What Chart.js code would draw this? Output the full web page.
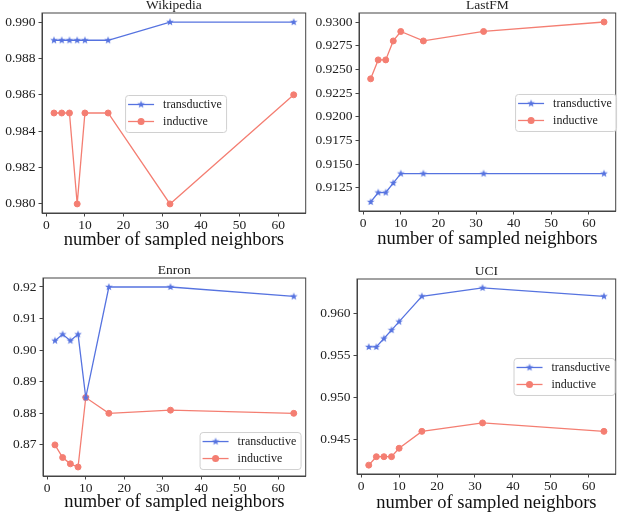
<!DOCTYPE html>
<html>
<head>
<meta charset="utf-8">
<script src="https://cdn.jsdelivr.net/npm/chart.js@4.4.1/dist/chart.umd.min.js"></script>
<style>
  body { margin: 0; background: #fff; width: 621px; height: 518px; position: relative; overflow: hidden; }
  .panel { position: absolute; }
</style>
</head>
<body>
<div class="panel" style="left:0px;top:0px"><canvas id="c0" width="311" height="250"></canvas></div>
<div class="panel" style="left:310px;top:0px"><canvas id="c1" width="311" height="250"></canvas></div>
<div class="panel" style="left:0px;top:255px"><canvas id="c2" width="311" height="263"></canvas></div>
<div class="panel" style="left:310px;top:255px"><canvas id="c3" width="311" height="263"></canvas></div>
<script>
// donnees
const neighbors = [2, 4, 6, 8, 10, 16, 32, 64];
const xTicks = [0, 10, 20, 30, 40, 50, 60];

const wikiTrans = [0.989, 0.989, 0.989, 0.989, 0.989, 0.989, 0.990, 0.990];
const wikiInd = [0.985, 0.985, 0.985, 0.980, 0.985, 0.985, 0.980, 0.986];
const wikiYTicks = [0.980, 0.982, 0.984, 0.986, 0.988, 0.990];

const lastfmTrans = [0.9110, 0.9120, 0.9120, 0.9130, 0.9140, 0.9140, 0.9140, 0.9140];
const lastfmInd = [0.9240, 0.9260, 0.9260, 0.9280, 0.9290, 0.9280, 0.9290, 0.9300];
const lastfmYTicks = [0.9125, 0.9150, 0.9175, 0.9200, 0.9225, 0.9250, 0.9275, 0.9300];

const enronTrans = [0.903, 0.905, 0.903, 0.905, 0.885, 0.920, 0.920, 0.917];
const enronInd = [0.870, 0.866, 0.864, 0.863, 0.885, 0.880, 0.881, 0.880];
const enronYTicks = [0.87, 0.88, 0.89, 0.90, 0.91, 0.92];

const uciTrans = [0.956, 0.956, 0.957, 0.958, 0.959, 0.962, 0.963, 0.962];
const uciInd = [0.942, 0.943, 0.943, 0.943, 0.944, 0.946, 0.947, 0.946];
const uciYTicks = [0.945, 0.950, 0.955, 0.960];

const BLUE = '#5673e0';
const RED = '#f47e72';
const AXIS = '#444';
const SERIF = '"Liberation Serif", "Times New Roman", serif';

// etoile pleine comme le marqueur '*' de matplotlib
function makeStar(color, r) {
    const size = Math.ceil(r * 2 + 2);
    const c = document.createElement('canvas');
    c.width = size; c.height = size;
    const g = c.getContext('2d');
    g.fillStyle = color;
    g.beginPath();
    for (let i = 0; i < 10; i++) {
        const rad = i % 2 === 0 ? r : r * 0.42;
        const a = -Math.PI / 2 + i * Math.PI / 5;
        const px = size / 2 + rad * Math.cos(a);
        const py = size / 2 + rad * Math.sin(a);
        if (i === 0) g.moveTo(px, py); else g.lineTo(px, py);
    }
    g.closePath();
    g.fill();
    return c;
}
const starImg = makeStar(BLUE, 4);

// cadre, titre et legende dans le graphique
const panelDecor = {
    id: 'panelDecor',
    afterDraw(chart, args, opts) {
        const { ctx, chartArea: a } = chart;
        ctx.save();
        ctx.strokeStyle = AXIS;
        ctx.lineWidth = 1;
        ctx.strokeRect(a.left, a.top, a.right - a.left, a.bottom - a.top);

        ctx.fillStyle = '#222';
        ctx.font = '13.5px ' + SERIF;
        ctx.textAlign = 'center';
        ctx.textBaseline = 'alphabetic';
        ctx.fillText(opts.title, (a.left + a.right) / 2, a.top - 4);

        const bx = a.left + opts.fx * (a.right - a.left);
        const by = a.top + opts.fy * (a.bottom - a.top);
        const bw = 101, bh = 37;
        ctx.beginPath();
        ctx.roundRect(bx + 0.5, by + 0.5, bw, bh, 3);
        ctx.fillStyle = 'rgba(255,255,255,0.85)';
        ctx.fill();
        ctx.strokeStyle = '#d0d0d0';
        ctx.stroke();

        ctx.font = '12px ' + SERIF;
        ctx.textAlign = 'left';
        ctx.textBaseline = 'middle';
        chart.data.datasets.forEach((ds, i) => {
            const ry = by + 9.5 + i * 17;
            ctx.strokeStyle = ds.borderColor;
            ctx.lineWidth = 1.3;
            ctx.beginPath();
            ctx.moveTo(bx + 3, ry);
            ctx.lineTo(bx + 29, ry);
            ctx.stroke();
            if (ds.pointStyle === 'circle') {
                ctx.fillStyle = ds.borderColor;
                ctx.beginPath();
                ctx.arc(bx + 16, ry, 3.5, 0, Math.PI * 2);
                ctx.fill();
            } else {
                ctx.drawImage(starImg, bx + 16 - starImg.width / 2, ry - starImg.height / 2);
            }
            ctx.fillStyle = '#222';
            ctx.fillText(ds.label, bx + 38, ry + 0.5);
        });
        ctx.restore();
    }
};

const panels = [
    { id: 'c0', title: 'Wikipedia', trans: wikiTrans, ind: wikiInd, yMin: 0.9795, yMax: 0.9905, yTicks: wikiYTicks, dec: 3,
      yW: 42, xH: 37, top: 13, right: 2, titlePad: 1, fx: 0.315, fy: 0.41 },
    { id: 'c1', title: 'LastFM', trans: lastfmTrans, ind: lastfmInd, yMin: 0.91005, yMax: 0.93095, yTicks: lastfmYTicks, dec: 4,
      yW: 49, xH: 39, top: 13, right: 2, titlePad: 2, fx: 0.608, fy: 0.409 },
    { id: 'c2', title: 'Enron', trans: enronTrans, ind: enronInd, yMin: 0.86015, yMax: 0.92285, yTicks: enronYTicks, dec: 2,
      yW: 43, xH: 42, top: 23, right: 1, titlePad: 7, fx: 0.596, fy: 0.778 },
    { id: 'c3', title: 'UCI', trans: uciTrans, ind: uciInd, yMin: 0.94095, yMax: 0.96405, yTicks: uciYTicks, dec: 3,
      yW: 47, xH: 44, top: 24, right: 1, titlePad: 6, fx: 0.605, fy: 0.405 }
];

panels.forEach(p => {
    const ctx = document.getElementById(p.id).getContext('2d');
    new Chart(ctx, {
        type: 'line',
        data: {
            datasets: [
                {
                    label: 'transductive',
                    data: neighbors.map((x, i) => ({ x: x, y: p.trans[i] })),
                    borderColor: BLUE,
                    backgroundColor: BLUE,
                    borderWidth: 1.3,
                    pointStyle: starImg,
                    pointRadius: 4,
                    tension: 0
                },
                {
                    label: 'inductive',
                    data: neighbors.map((x, i) => ({ x: x, y: p.ind[i] })),
                    borderColor: RED,
                    backgroundColor: RED,
                    borderWidth: 1.3,
                    pointStyle: 'circle',
                    pointRadius: 3,
                    pointBorderWidth: 1,
                    tension: 0
                }
            ]
        },
        options: {
            responsive: false,
            animation: false,
            layout: { padding: { top: p.top, right: p.right, left: 0, bottom: 0 } },
            scales: {
                x: {
                    type: 'linear',
                    min: -1.1,
                    max: 67.1,
                    afterBuildTicks: s => { s.ticks = xTicks.map(v => ({ value: v })); },
                    afterFit: s => { s.height = p.xH; },
                    grid: { drawOnChartArea: false, tickLength: 3.5, color: AXIS },
                    border: { color: AXIS },
                    ticks: { color: '#222', font: { family: SERIF, size: 13.5, lineHeight: 1 }, padding: 2, maxRotation: 0 },
                    title: { display: true, text: 'number of sampled neighbors', color: '#111',
                             font: { family: SERIF, size: 18.5, lineHeight: 1 }, padding: { top: 0, bottom: p.titlePad } }
                },
                y: {
                    min: p.yMin,
                    max: p.yMax,
                    afterBuildTicks: s => { s.ticks = p.yTicks.map(v => ({ value: v })); },
                    afterFit: s => { s.width = p.yW; },
                    grid: { drawOnChartArea: false, tickLength: 3.5, color: AXIS },
                    border: { color: AXIS },
                    ticks: { color: '#222', font: { family: SERIF, size: 13.5 }, padding: 3,
                             callback: v => v.toFixed(p.dec) }
                }
            },
            plugins: {
                legend: { display: false },
                tooltip: { enabled: false },
                panelDecor: { title: p.title, fx: p.fx, fy: p.fy }
            }
        },
        plugins: [panelDecor]
    });
});
</script>
</body>
</html>
